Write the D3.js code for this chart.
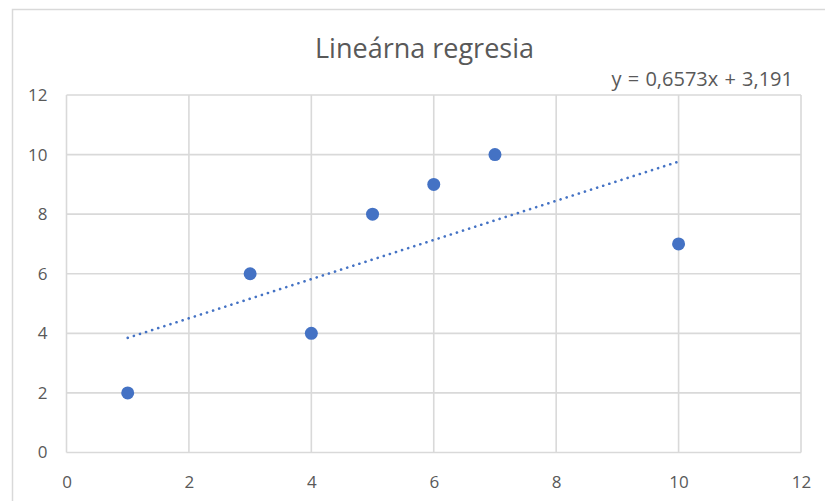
<!DOCTYPE html>
<html>
<head>
<meta charset="utf-8">
<script src="https://cdn.jsdelivr.net/npm/d3@7"></script>
<style>
  html, body { margin: 0; padding: 0; background: #fff; }
  svg { display: block; }
  text { font-family: "Open Sans", Lato, "Liberation Sans", sans-serif; fill: #595959; }
</style>
</head>
<body>
<svg id="chart" width="825" height="501"></svg>
<script>
// Observations
const xValues = [1, 3, 4, 5, 6, 7, 10];
const yValues = [2, 6, 4, 8, 9, 10, 7];
const xTicks = [0, 2, 4, 6, 8, 10, 12];
const yTicks = [0, 2, 4, 6, 8, 10, 12];
const title = "Lineárna regresia";

// Least-squares fit of y on x
const mx = d3.mean(xValues), my = d3.mean(yValues);
const sxy = d3.sum(xValues, (x, i) => (x - mx) * (yValues[i] - my));
const sxx = d3.sum(xValues, x => (x - mx) * (x - mx));
const slope = sxy / sxx;
const intercept = my - slope * mx;
const fmt = v => v.toString().replace(".", ",");
const equation = `y = ${fmt(+slope.toFixed(4))}x + ${fmt(+intercept.toFixed(3))}`;

const svg = d3.select("#chart");
const grid = "#d9d9d9";
const blue = "#4472C4";

// Chart frame
svg.append("rect")
  .attr("x", 12.5).attr("y", 9.5)
  .attr("width", 830).attr("height", 510)
  .attr("fill", "none").attr("stroke", grid).attr("stroke-width", 1.5);

const x = d3.scaleLinear().domain([0, 12]).range([66.5, 801]);
const y = d3.scaleLinear().domain([0, 12]).range([452.5, 95]);

// Gridlines
svg.append("g").selectAll("line").data(xTicks).join("line")
  .attr("x1", d => x(d)).attr("x2", d => x(d))
  .attr("y1", y(12)).attr("y2", y(0))
  .attr("stroke", grid).attr("stroke-width", 1.6);
svg.append("g").selectAll("line").data(yTicks).join("line")
  .attr("x1", x(0)).attr("x2", x(12))
  .attr("y1", d => y(d)).attr("y2", d => y(d))
  .attr("stroke", grid).attr("stroke-width", 1.6);

// Axes (labels only; lines come from the grid)
const xAxis = svg.append("g")
  .attr("transform", `translate(0,${y(0)})`)
  .call(d3.axisBottom(x).tickValues(xTicks).tickSize(0).tickPadding(23).tickFormat(d3.format("d")));
xAxis.select(".domain").remove();
xAxis.selectAll("text").style("font-size", "17px").attr("fill", "#595959");

const yAxis = svg.append("g")
  .attr("transform", `translate(${x(0)},0)`)
  .call(d3.axisLeft(y).tickValues(yTicks).tickSize(0).tickPadding(19).tickFormat(d3.format("d")));
yAxis.select(".domain").remove();
yAxis.selectAll("text").style("font-size", "17px").attr("fill", "#595959");

// Trendline across the observed x-range
const xr = d3.extent(xValues);
svg.append("line")
  .attr("x1", x(xr[0])).attr("y1", y(slope * xr[0] + intercept))
  .attr("x2", x(xr[1])).attr("y2", y(slope * xr[1] + intercept))
  .attr("stroke", blue).attr("stroke-width", 2.6)
  .attr("stroke-linecap", "round")
  .attr("stroke-dasharray", "0.1 6.3");

// Points
svg.append("g").selectAll("circle").data(xValues).join("circle")
  .attr("cx", d => x(d)).attr("cy", (d, i) => y(yValues[i]))
  .attr("r", 6.5).attr("fill", blue);

// Title and equation
svg.append("text")
  .attr("x", 424.5).attr("y", 58)
  .attr("text-anchor", "middle")
  .style("font-size", "27px")
  .text(title);

svg.append("text")
  .attr("x", 793).attr("y", 86)
  .attr("text-anchor", "end")
  .style("font-size", "20px")
  .style("word-spacing", "1px")
  .text(equation);
</script>
</body>
</html>
